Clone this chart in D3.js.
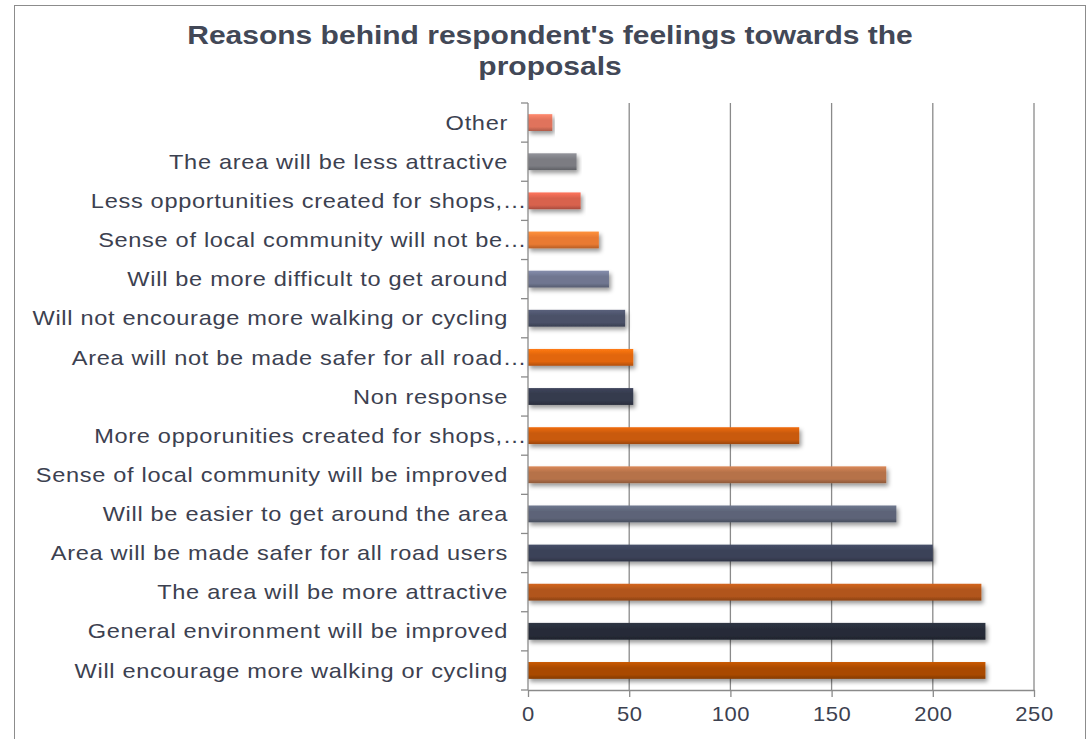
<!doctype html>
<meta charset="utf-8">
<head>
<script src="https://d3js.org/d3.v7.min.js"></script>
<style>
  body { margin: 0; background: #fff; }
  text { font-family: "Liberation Sans", Arial, sans-serif; }
</style>
</head>
<body>
<svg width="1092" height="739"></svg>
<script>
    // categories listed top to bottom, as in the picture
    let categories = [
        "Other",
        "The area will be less attractive",
        "Less opportunities created for shops,\u2026",
        "Sense of local community will not be\u2026",
        "Will be more difficult to get around",
        "Will not encourage more walking or cycling",
        "Area will not be made safer for all road\u2026",
        "Non response",
        "More opporunities created for shops,\u2026",
        "Sense of local community will be improved",
        "Will be easier to get around the area",
        "Area will be made safer for all road users",
        "The area will be more attractive",
        "General environment will be improved",
        "Will encourage more walking or cycling"
    ];
    let counts = [12, 24, 26, 35, 40, 48, 52, 52, 134, 177, 182, 200, 224, 226, 226];
    let barColors = [
        "#e0735c", "#7b7c82", "#d8624e", "#e97a32", "#6f7690",
        "#4b5168", "#e2660f", "#353a4d", "#c95a0e", "#b6724a",
        "#5d6478", "#3b4258", "#b1551b", "#272c39", "#a94a02"
    ];
    let xTicks = [0, 50, 100, 150, 200, 250];
    let titleLines = ["Reasons behind respondent's feelings towards the", "proposals"];

    let svg = d3.select("svg");
    let plotLeft = 528, plotRight = 1034, plotTop = 103, plotBottom = 690;
    let stretch = 1.15;

    svg.append("rect")
        .attr("x", 14.5).attr("y", 5.5)
        .attr("width", 1071).attr("height", 760)
        .attr("fill", "#fff")
        .attr("stroke", "#8c8c8c");

    let defs = svg.append("defs");
    let shadow = defs.append("filter").attr("id", "shadow")
        .attr("x", "-5%").attr("y", "-40%").attr("width", "115%").attr("height", "200%");
    shadow.append("feDropShadow")
        .attr("dx", 2).attr("dy", 3).attr("stdDeviation", 2)
        .attr("flood-color", "#000").attr("flood-opacity", 0.4);

    barColors.forEach((c, i) => {
        let grad = defs.append("linearGradient").attr("id", "g" + i)
            .attr("x1", 0).attr("y1", 0).attr("x2", 0).attr("y2", 1);
        grad.append("stop").attr("offset", "0%").attr("stop-color", d3.color(c).brighter(0.5));
        grad.append("stop").attr("offset", "35%").attr("stop-color", c);
        grad.append("stop").attr("offset", "75%").attr("stop-color", c);
        grad.append("stop").attr("offset", "100%").attr("stop-color", d3.color(c).darker(0.7));
    });

    let x = d3.scaleLinear().domain([0, 250]).range([plotLeft, plotRight]);
    let y = d3.scaleBand().domain(categories).range([plotTop, plotBottom]).paddingInner(0.57).paddingOuter(0.285);

    svg.append("g").selectAll("text")
        .data(titleLines)
        .enter().append("text")
        .attr("transform", (d, i) => "translate(550," + (44 + i * 31) + ") scale(1.2,1)")
        .attr("text-anchor", "middle")
        .attr("font-size", 25).attr("font-weight", "bold")
        .attr("fill", "#424857")
        .text(d => d);

    // vertical gridlines
    svg.append("g").selectAll("line")
        .data(xTicks.slice(1))
        .enter().append("line")
        .attr("x1", d => x(d)).attr("x2", d => x(d))
        .attr("y1", plotTop).attr("y2", plotBottom)
        .attr("stroke", "#8a8a8a").attr("stroke-width", 1.3);

    // bars
    svg.append("g").selectAll("rect")
        .data(categories)
        .enter().append("rect")
        .attr("x", x(0))
        .attr("y", d => y(d))
        .attr("height", y.bandwidth())
        .attr("width", (d, i) => x(counts[i]) - x(0))
        .attr("fill", (d, i) => "url(#g" + i + ")")
        .attr("filter", "url(#shadow)");

    // x axis
    let xAxis = svg.append("g")
        .attr("transform", "translate(0," + plotBottom + ")")
        .call(d3.axisBottom(x).tickValues(xTicks).tickSizeInner(7).tickSizeOuter(0).tickPadding(10));
    xAxis.select(".domain").attr("stroke", "#8a8a8a").attr("stroke-width", 1.3);
    xAxis.selectAll(".tick line").attr("stroke", "#8a8a8a").attr("stroke-width", 1.3);
    xAxis.selectAll("text")
        .attr("font-size", 20).attr("fill", "#3c4150")
        .attr("font-family", "Liberation Sans, Arial, sans-serif")
        .attr("transform", "scale(1.1,1)")
        .style("letter-spacing", "0.5px");

    // y axis: ticks sit on the band boundaries
    let yAxis = svg.append("g");
    yAxis.append("line")
        .attr("x1", plotLeft).attr("x2", plotLeft)
        .attr("y1", plotTop).attr("y2", plotBottom)
        .attr("stroke", "#8a8a8a").attr("stroke-width", 1.3);
    let step = y.step();
    yAxis.selectAll(".yt")
        .data(d3.range(categories.length + 1))
        .enter().append("line")
        .attr("x1", plotLeft - 7).attr("x2", plotLeft)
        .attr("y1", i => plotTop + i * step).attr("y2", i => plotTop + i * step)
        .attr("stroke", "#8a8a8a").attr("stroke-width", 1.3);
    // truncated labels run their dots right up to the axis
    yAxis.selectAll(".yl")
        .data(categories)
        .enter().append("text")
        .attr("transform", d => {
            let tx = d.endsWith("\u2026") ? plotLeft - 1 : plotLeft - 20;
            return "translate(" + tx + "," + (y(d) + y.bandwidth() / 2) + ") scale(" + stretch + ",1)";
        })
        .attr("dy", "0.35em")
        .attr("text-anchor", "end")
        .attr("font-size", 20.5)
        .attr("fill", "#3c4150")
        .style("letter-spacing", "0.6px")
        .text(d => d);
</script>
</body>
